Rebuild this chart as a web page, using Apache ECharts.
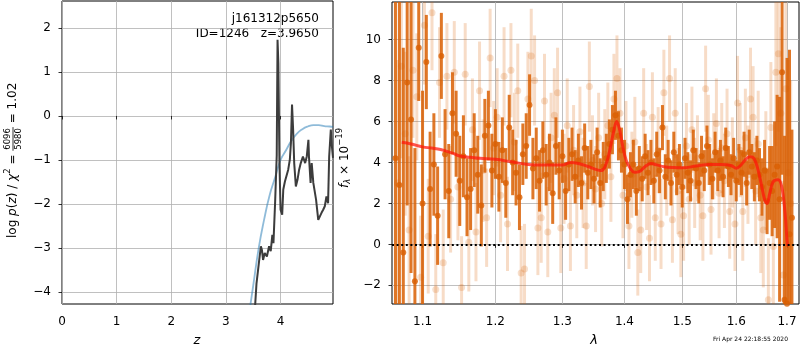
<!DOCTYPE html>
<html><head><meta charset="utf-8">
<script src="https://cdn.jsdelivr.net/npm/echarts@6/dist/echarts.min.js"></script>
<style>html,body{margin:0;padding:0;background:#fff}#c{width:800px;height:350px}</style>
</head><body><div id="c"></div>
<script>
// ---- redshift panel: log p(z) and prior ----
const zPdf = [3.52, 3.56, 3.61, 3.64, 3.66, 3.68, 3.71, 3.75, 3.79, 3.82, 3.85, 3.87, 3.90, 3.93, 3.945, 3.96, 3.98, 4.00, 4.03, 4.05, 4.08, 4.11, 4.14, 4.17, 4.19, 4.21, 4.23, 4.25, 4.28, 4.31, 4.34, 4.37, 4.41, 4.45, 4.48, 4.51, 4.52, 4.55, 4.57, 4.60, 4.65, 4.69, 4.72, 4.75, 4.78, 4.81, 4.84, 4.87, 4.89, 4.92, 4.94, 4.96];
const logPz = [-4.6, -3.80, -3.27, -2.96, -3.05, -3.27, -3.11, -3.19, -2.96, -3.07, -2.70, -2.89, -1.98, -0.90, 1.73, 1.20, -1.07, -2.13, -2.24, -1.67, -1.49, -1.52, -1.22, -0.99, -0.61, 0.26, -0.31, -1.07, -1.60, -1.45, -1.22, -1.07, -0.92, -1.07, -0.92, -0.54, -0.92, -1.52, -1.07, -1.52, -1.90, -2.36, -2.40, -2.20, -2.13, -2.05, -1.83, -1.98, -0.92, -0.31, -0.69, -0.95];
const zPrior = [3.42, 3.5, 3.6, 3.7, 3.8, 3.9, 4.0, 4.1, 4.2, 4.3, 4.4, 4.5, 4.6, 4.7, 4.8, 4.9, 4.96];
const logPrior = [-4.53, -3.85, -3.0, -2.35, -1.8, -1.4, -1.0, -0.78, -0.56, -0.40, -0.30, -0.24, -0.21, -0.21, -0.23, -0.24, -0.25];
const zTicks = [0, 1, 2, 3, 4];
const pzTicks = [-4, -3, -2, -1, 0, 1, 2];

// ---- spectrum panel ----
const darkLam = [1.065,1.070,1.075,1.080,1.085,1.090,1.095,1.100,1.105,1.110,
 1.115,1.120,1.125,1.130,1.135,1.140,1.145,1.150,1.155,1.160,
 1.165,1.170,1.175,1.180,1.185,1.190,1.195,1.200,1.205,1.210,
 1.215,1.220,1.225,1.230,1.235,1.240,1.245,1.250,1.255,1.260,
 1.265,1.270,1.275,1.280,1.285,1.290,1.295,1.300,1.305,1.310,
 1.315,1.320,1.325,1.330,1.335,1.340,1.345,1.350,1.355,1.360,
 1.365,1.370,1.375,1.380,1.385,1.390,1.395,1.400,1.405,1.410,
 1.415,1.420,1.425,1.430,1.435,1.440,1.445,1.450,1.455,1.460,
 1.465,1.470,1.475,1.480,1.485,1.490,1.495,1.500,1.505,1.510,
 1.515,1.520,1.525,1.530,1.535,1.540,1.545,1.550,1.555,1.560,
 1.565,1.570,1.575,1.580,1.585,1.590,1.595,1.600,1.605,1.610,
 1.615,1.620,1.625,1.630,1.635,1.640,1.645,1.650,1.655,1.660,
 1.665,1.670,1.675,1.680,1.685,1.690,1.695,1.700,1.705,1.710];
const darkFlux = [4.2,2.9,-0.4,7.9,6.1,-1.8,9.6,2.0,8.9,2.7,
 3.9,1.4,9.2,4.4,2.6,6.4,5.4,3.1,4.3,2.3,
 2.7,4.6,3.4,1.9,5.3,5.8,3.6,4.9,3.3,4.6,
 3.0,5.7,4.0,3.5,2.3,4.4,4.8,6.8,3.7,4.2,
 3.1,4.6,3.4,4.0,2.5,4.8,3.6,4.3,2.6,3.9,
 4.4,3.3,4.1,3.0,4.7,3.5,3.9,3.2,4.5,3.0,
 3.8,4.2,4.9,5.6,6.3,5.3,4.6,3.9,2.2,3.4,
 3.9,2.6,3.7,3.2,4.3,3.5,4.0,3.1,4.4,3.6,
 5.7,3.3,4.1,3.0,4.5,3.4,3.9,2.8,4.2,3.5,
 3.1,4.6,3.7,3.0,4.3,3.6,4.8,3.9,3.2,4.5,
 3.6,4.1,3.3,4.7,3.8,3.4,4.2,3.1,3.9,3.5,
 4.4,3.0,4.5,3.8,3.3,4.1,3.4,2.8,3.6,2.1,
 3.0,2.6,3.4,3.8,2.2,8.4,-2.7,-2.9,0.5,1.3];
const darkErr = [12,9,10,6,7.5,6.5,2.6,5.5,2.3,2.8,
 2.5,2.4,2.1,2.2,2.3,2.0,2.1,2.2,2.0,1.9,
 2.0,1.8,1.9,2.0,1.8,1.7,1.8,1.7,1.7,1.6,
 1.7,1.6,1.6,1.6,1.6,1.5,1.6,1.5,1.5,1.5,
 1.5,1.4,1.5,1.4,1.5,1.4,1.4,1.3,1.4,1.3,
 1.3,1.3,1.3,1.3,1.2,1.3,1.2,1.2,1.2,1.2,
 1.2,1.2,1.2,1.2,1.2,1.2,1.1,1.2,1.2,1.1,
 1.2,1.2,1.1,1.1,1.1,1.1,1.1,1.1,1.1,1.1,
 1.1,1.1,1.0,1.1,1.0,1.0,1.0,1.0,1.0,1.0,
 1.0,1.0,1.0,1.0,1.0,1.0,1.0,1.0,1.0,1.0,
 1.0,1.0,1.0,1.0,1.0,1.0,1.0,1.0,1.0,1.1,
 1.1,1.1,1.1,1.1,1.2,1.2,1.3,1.4,1.5,1.6,
 1.8,2.2,2.6,3.5,5,5,8,12,9,4.3];

const lightLam = [1.0675,1.0725,1.0775,1.0825,1.0875,1.0925,1.0975,1.1025,1.1075,1.1125,
 1.1175,1.1225,1.1275,1.1325,1.1375,1.1425,1.1475,1.1525,1.1575,1.1625,
 1.1675,1.1725,1.1775,1.1825,1.1875,1.1925,1.1975,1.2025,1.2075,1.2125,
 1.2175,1.2225,1.2275,1.2325,1.2375,1.2425,1.2475,1.2525,1.2575,1.2625,
 1.2675,1.2725,1.2775,1.2825,1.2875,1.2925,1.2975,1.3025,1.3075,1.3125,
 1.3175,1.3225,1.3275,1.3325,1.3375,1.3425,1.3475,1.3525,1.3575,1.3625,
 1.3675,1.3725,1.3775,1.3825,1.3875,1.3925,1.3975,1.4025,1.4075,1.4125,
 1.4175,1.4225,1.4275,1.4325,1.4375,1.4425,1.4475,1.4525,1.4575,1.4625,
 1.4675,1.4725,1.4775,1.4825,1.4875,1.4925,1.4975,1.5025,1.5075,1.5125,
 1.5175,1.5225,1.5275,1.5325,1.5375,1.5425,1.5475,1.5525,1.5575,1.5625,
 1.5675,1.5725,1.5775,1.5825,1.5875,1.5925,1.5975,1.6025,1.6075,1.6125,
 1.6175,1.6225,1.6275,1.6325,1.6375,1.6425,1.6475,1.6525,1.6575,1.6625,
 1.6675,1.6725,1.6775,1.6825,1.6875,1.6925,1.6975,1.7025,1.7075];
const lightFlux = [3.0,8.7,5.4,0.7,8.5,7.2,-1.6,10.7,0.4,11.3,
 -2.2,7.9,-0.9,8.2,2.2,8.4,2.8,-2.1,8.3,0.1,
 5.6,0.6,7.5,3.6,1.3,9.1,4.7,6.2,2.4,8.2,
 1.0,8.5,5.0,7.5,-1.4,-1.2,7.1,9.2,8.0,0.8,
 1.3,7.0,0.6,5.2,6.3,7.4,0.8,3.2,5.8,0.9,
 4.6,2.4,5.5,3.0,0.9,7.7,4.1,2.7,5.2,2.0,
 4.4,5.8,3.3,7.1,8.1,6.4,2.4,4.8,0.9,3.4,
 5.0,-0.4,0.7,6.4,2.8,0.3,6.2,1.3,4.6,1.0,
 7.4,3.6,8.1,1.2,6.4,2.6,0.5,1.4,4.8,2.2,
 5.6,3.0,4.2,2.4,1.4,7.6,5.1,1.7,4.3,5.9,
 2.5,4.7,3.1,5.4,1.6,4.0,1.0,6.9,4.6,1.6,
 5.2,3.4,7.1,6.2,2.6,4.9,1.3,0.7,3.6,-2.7,
 5.7,-0.1,8.4,9.3,6.4,-1.5,7.6,3.5,2.0];
const lightErr = [6.0,4.5,4.0,3.6,3.3,3.1,3.0,2.9,2.8,2.8,
 2.7,2.7,2.6,2.6,2.6,2.5,2.6,2.5,2.5,2.4,
 2.5,2.4,2.4,2.5,2.4,2.4,2.3,2.4,2.3,2.4,
 2.3,2.3,2.4,2.3,2.3,2.2,2.3,2.3,2.2,2.3,
 2.2,2.3,2.2,2.2,2.3,2.2,2.2,2.2,2.3,2.2,
 2.2,2.1,2.2,2.2,2.1,2.2,2.2,2.1,2.2,2.1,
 2.2,2.1,2.2,2.2,2.1,2.2,2.1,2.2,2.1,2.1,
 2.2,2.1,2.1,2.2,2.1,2.1,2.2,2.1,2.1,2.2,
 2.1,2.2,2.1,2.1,2.2,2.1,2.1,2.2,2.1,2.2,
 2.1,2.2,2.1,2.2,2.2,2.1,2.2,2.2,2.1,2.2,
 2.2,2.2,2.3,2.2,2.3,2.2,2.3,2.3,2.3,2.4,
 2.4,2.4,2.5,2.5,2.6,2.6,2.7,2.8,2.9,3.0,
 3.2,3.4,3.6,3.8,4.2,4.6,5.0,5.5,6.0];

const modelLam = [1.073,1.085,1.100,1.112,1.124,1.141,1.150,1.165,1.178,1.200,1.223,1.248,1.268,1.290,1.300,1.313,1.325,1.340,1.354,1.361,1.368,1.375,1.382,1.387,1.392,1.397,1.403,1.410,1.417,1.425,1.435,1.445,1.455,1.468,1.485,1.500,1.525,1.548,1.572,1.590,1.600,1.610,1.620,1.627,1.634,1.641,1.648,1.655,1.660,1.665,1.672,1.682,1.689,1.696,1.700,1.702];
const modelFlux = [4.98,4.90,4.76,4.70,4.63,4.44,4.31,4.25,4.20,4.15,4.03,3.90,3.87,3.87,3.87,4.00,3.95,3.80,3.65,3.60,3.80,4.50,5.50,6.00,5.60,4.80,4.10,3.70,3.52,3.55,3.80,3.95,3.88,3.79,3.75,3.74,3.82,3.90,3.90,3.85,3.72,3.90,4.20,4.28,4.20,3.75,3.00,2.20,2.00,2.45,3.05,3.15,2.85,1.55,0.20,-0.10];
const lamTicks = [1.1, 1.2, 1.3, 1.4, 1.5, 1.6, 1.7];
const fluxTicks = [-2, 0, 2, 4, 6, 8, 10];

const LAM_MIN = 1.0606, LAM_MAX = 1.7245;
const F_MIN = -2.91, F_MAX = 11.83;
const ORANGE = '217,95,2';
const FONT = 'DejaVu Sans';

const minus = v => (v < 0 ? '\u2212' + Math.abs(v) : String(v));

// text width helper for composing the rotated labels
const mctx = document.createElement('canvas').getContext('2d');
function tw(str, size, style) {
  mctx.font = (style ? style + ' ' : '') + size + 'px "' + FONT + '"';
  return mctx.measureText(str).width;
}
// lay out pieces of a label one after another along the local x axis
function pieces(list) {
  let x = 0; const out = [];
  list.forEach(p => {
    const size = p.size || 12;
    out.push({ type: 'text', x: x, y: p.dy || 0, style: {
      text: p.t, fontSize: size, fontFamily: FONT, fontStyle: p.st || 'normal',
      fill: '#000', textVerticalAlign: 'middle', textAlign: 'left' } });
    x += tw(p.t, size, p.st);
  });
  return { children: out, width: x };
}

// y label of the redshift panel, with a stacked fraction
const part1 = pieces([
  { t: 'log ' }, { t: 'p', st: 'italic' }, { t: '(' }, { t: 'z', st: 'italic' },
  { t: ') / ' }, { t: '\u03c7', st: 'italic' }, { t: '2', size: 8.5, dy: -5 }, { t: ' = ' }
]);
const fracW = Math.max(tw('6096', 8.5), tw('5980', 8.5)) + 2;
const fracX = part1.width;
const leftLabel = part1.children.concat([
  { type: 'text', x: fracX + 1, y: -5, style: { text: '6096', fontSize: 8.5, fontFamily: FONT, fill: '#000', textVerticalAlign: 'middle' } },
  { type: 'line', shape: { x1: fracX, y1: 0, x2: fracX + fracW, y2: 0 }, style: { stroke: '#000', lineWidth: 0.8 } },
  { type: 'text', x: fracX + 1, y: 5.5, style: { text: '5980', fontSize: 8.5, fontFamily: FONT, fill: '#000', textVerticalAlign: 'middle' } },
  { type: 'text', x: fracX + fracW, y: 0, style: { text: ' = 1.02', fontSize: 12, fontFamily: FONT, fill: '#000', textVerticalAlign: 'middle' } }
]);

// y label of the spectrum panel
const rightLabel = pieces([
  { t: 'f', st: 'italic' }, { t: '\u03bb', st: 'italic', size: 8.5, dy: 3 },
  { t: ' \u00d7 10' }, { t: '\u221219', size: 8.5, dy: -5 }
]);

function errorBars(lam, flux, err, color, width) {
  return {
    type: 'custom', xAxisIndex: 1, yAxisIndex: 1, silent: true,
    data: lam.map((l, i) => [Math.log(l), flux[i], err[i]]),
    encode: { x: 0, y: 1 },
    renderItem: (params, api) => {
      const x = api.value(0), y = api.value(1), e = api.value(2);
      const lo = Math.max(y - e, F_MIN), hi = Math.min(y + e, F_MAX);
      if (lo >= hi) return;
      const a = api.coord([x, lo]), b = api.coord([x, hi]);
      return { type: 'line', shape: { x1: a[0], y1: a[1], x2: b[0], y2: b[1] },
               style: { stroke: color, lineWidth: width } };
    }
  };
}
function points(lam, flux, color, size) {
  return {
    type: 'scatter', xAxisIndex: 1, yAxisIndex: 1, silent: true,
    data: lam.map((l, i) => [Math.log(l), flux[i]]),
    symbol: 'circle', symbolSize: size, itemStyle: { color: color }
  };
}

const axisFont = { color: '#000', fontSize: 12, fontFamily: FONT };
const tick = { show: true, inside: false, length: 3.5, lineStyle: { color: '#000', width: 0.8 } };
const grid = { color: '#b0b0b0', width: 0.8 };

const chart = echarts.init(document.getElementById('c'), null, { renderer: 'canvas' });
chart.setOption({
  animation: false,
  backgroundColor: '#fff',
  grid: [
    { left: 62, top: 1, width: 271, height: 303, show: true, borderColor: '#000', borderWidth: 1 },
    { left: 392, top: 2, width: 407, height: 302, show: true, borderColor: '#000', borderWidth: 1 }
  ],
  xAxis: [
    { gridIndex: 0, type: 'value', min: 0, max: 4.96,
      axisLine: { show: false },
      axisTick: Object.assign({}, tick, { customValues: zTicks }),
      axisLabel: Object.assign({}, axisFont, { customValues: zTicks, margin: 12, formatter: minus }),
      splitLine: { show: true, lineStyle: grid } },
    { gridIndex: 1, type: 'value', min: Math.log(LAM_MIN), max: Math.log(LAM_MAX),
      axisLine: { show: false },
      axisTick: Object.assign({}, tick, { customValues: lamTicks.map(Math.log) }),
      axisLabel: Object.assign({}, axisFont, { customValues: lamTicks.map(Math.log), margin: 12,
        formatter: v => Math.exp(v).toFixed(1) }),
      splitLine: { show: true, lineStyle: grid } }
  ],
  yAxis: [
    { gridIndex: 0, type: 'value', min: -4.27, max: 2.61,
      axisLine: { show: false },
      axisTick: Object.assign({}, tick, { customValues: pzTicks }),
      axisLabel: Object.assign({}, axisFont, { customValues: pzTicks, margin: 11, formatter: minus }),
      splitLine: { show: true, lineStyle: grid } },
    { gridIndex: 1, type: 'value', min: F_MIN, max: F_MAX,
      axisLine: { show: false },
      axisTick: Object.assign({}, tick, { customValues: fluxTicks }),
      axisLabel: Object.assign({}, axisFont, { customValues: fluxTicks, margin: 11, formatter: minus }),
      splitLine: { show: true, lineStyle: grid } }
  ],
  series: [
    { type: 'line', xAxisIndex: 0, yAxisIndex: 0, silent: true, smooth: true, showSymbol: false,
      data: zPrior.map((z, i) => [z, logPrior[i]]),
      lineStyle: { color: 'rgba(31,119,180,0.5)', width: 1.8 } },
    { type: 'line', xAxisIndex: 0, yAxisIndex: 0, silent: true, showSymbol: false,
      data: zPdf.map((z, i) => [z, logPz[i]]),
      lineStyle: { color: '#3c3c3c', width: 2 } },
    errorBars(lightLam, lightFlux, lightErr, 'rgba(' + ORANGE + ',0.22)', 3),
    points(lightLam, lightFlux, 'rgba(' + ORANGE + ',0.25)', 7),
    errorBars(darkLam, darkFlux, darkErr, 'rgba(' + ORANGE + ',0.85)', 3),
    points(darkLam, darkFlux, 'rgb(' + ORANGE + ')', 6),
    { type: 'line', xAxisIndex: 1, yAxisIndex: 1, silent: true, showSymbol: false, smooth: 0.4,
      data: modelLam.map((l, i) => [Math.log(l), modelFlux[i]]),
      lineStyle: { color: 'rgba(255,20,10,0.72)', width: 3 },
      markLine: { silent: true, symbol: 'none', label: { show: false },
        data: [{ yAxis: 0 }],
        lineStyle: { color: '#000', type: [2, 2.6], width: 2 } } }
  ],
  graphic: [
    { type: 'text', right: 800 - 319, top: 13, style: { text: 'j161312p5650', fontSize: 12, fontFamily: FONT, fill: '#000' } },
    { type: 'text', right: 800 - 319, top: 28, style: { text: 'ID=1246   z=3.9650', fontSize: 12, fontFamily: FONT, fill: '#000' } },
    { type: 'group', x: 13, y: 238, rotation: Math.PI / 2, children: leftLabel },
    { type: 'group', x: 345, y: 188, rotation: Math.PI / 2, children: rightLabel.children },
    { type: 'text', x: 197, y: 341, style: { text: 'z', fontSize: 13, fontStyle: 'italic', fontFamily: FONT, fill: '#000', textAlign: 'center', textVerticalAlign: 'middle' } },
    { type: 'text', x: 594, y: 341, style: { text: '\u03bb', fontSize: 13, fontStyle: 'italic', fontFamily: FONT, fill: '#000', textAlign: 'center', textVerticalAlign: 'middle' } },
    { type: 'text', x: 788, y: 339, style: { text: 'Fri Apr 24 22:18:55 2020', fontSize: 6, fontFamily: FONT, fill: '#000', textAlign: 'right', textVerticalAlign: 'middle' } }
  ]
});
</script></body></html>
